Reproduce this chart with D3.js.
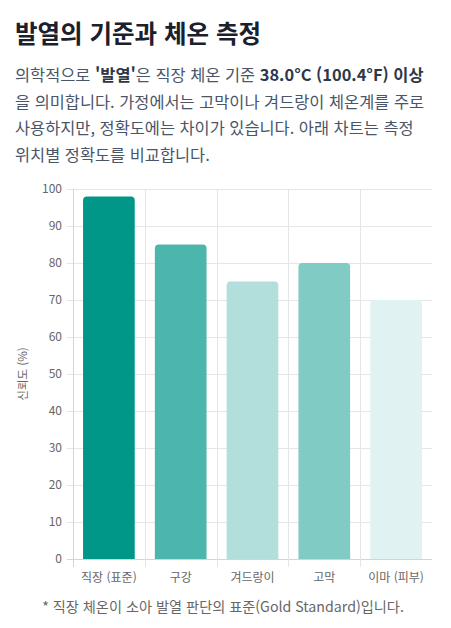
<!DOCTYPE html>
<html lang="ko">
<head>
<meta charset="utf-8">
<script src="https://cdn.jsdelivr.net/npm/d3@7"></script>
<style>
  body { margin: 0; background: #fff; font-family: "Noto Sans CJK KR", "Noto Sans", sans-serif; }
  .wrap { position: relative; width: 451px; height: 628px; }
  h1 { position: absolute; left: 15px; top: 15px; margin: 0; font-size: 24.5px; font-weight: 700; color: #1a202c; white-space: nowrap; }
  p.desc { position: absolute; left: 15px; top: 61px; width: 416px; margin: 0; font-size: 16.4px; line-height: 26.5px; color: #4a5568; }
  p.desc b { color: #2d3748; }
  svg { position: absolute; left: 0; top: 0; }
</style>
</head>
<body>
<div class="wrap">
  <h1>발열의 기준과 체온 측정</h1>
  <p class="desc">의학적으로 <b>'발열'</b>은 직장 체온 기준 <b>38.0°C (100.4°F) 이상</b>을 의미합니다. 가정에서는 고막이나 겨드랑이 체온계를 주로 사용하지만, 정확도에는 차이가 있습니다. 아래 차트는 측정 위치별 정확도를 비교합니다.</p>
  <div id="chart"></div>
</div>
<script>
// measurement sites and their reliability (%)
var sites = ["직장 (표준)", "구강", "겨드랑이", "고막", "이마 (피부)"];
var reliability = [98, 85, 75, 80, 70];
var barColors = ["#009688", "#4db6ac", "#b2dfdb", "#80cbc4", "#e0f2f1"];
var yTicks = [0, 10, 20, 30, 40, 50, 60, 70, 80, 90, 100];

var data = sites.map(function(s, i) {
    return { site: s, value: reliability[i], color: barColors[i] };
});

// plot area in page pixels
var plotLeft = 73, plotRight = 432, plotTop = 189, plotBottom = 559;

var svg = d3.select("#chart")
            .append("svg")
            .attr("width", 451)
            .attr("height", 628);

var x = d3.scaleBand()
          .domain(sites)
          .range([plotLeft, plotRight])
          .paddingInner(0.28)
          .paddingOuter(0.14);

var y = d3.scaleLinear()
          .domain([0, 100])
          .range([plotBottom, plotTop]);

var step = x.step();
var catStart = function(i) { return plotLeft + i * step; };

// horizontal grid lines
svg.append("g")
   .selectAll("line")
   .data(yTicks)
   .enter().append("line")
   .attr("x1", plotLeft - 6)
   .attr("x2", plotRight)
   .attr("y1", function(d) { return Math.round(y(d)) + 0.5; })
   .attr("y2", function(d) { return Math.round(y(d)) + 0.5; })
   .attr("stroke", function(d) { return d === 0 ? "#d4d4d4" : "#e6e6e6"; })
   .attr("stroke-width", 1);

// vertical grid lines between categories
svg.append("g")
   .selectAll("line")
   .data(sites)
   .enter().append("line")
   .attr("x1", function(d, i) { return Math.round(catStart(i)) + 0.5; })
   .attr("x2", function(d, i) { return Math.round(catStart(i)) + 0.5; })
   .attr("y1", plotTop)
   .attr("y2", plotBottom + 8)
   .attr("stroke", function(d, i) { return i === 0 ? "#d4d4d4" : "#e6e6e6"; })
   .attr("stroke-width", 1);

// bars with rounded top corners
function barPath(d) {
    var x0 = x(d.site), w = x.bandwidth(), y0 = y(d.value), y1 = y(0), r = 4;
    return "M" + x0 + "," + y1 +
           "V" + (y0 + r) +
           "Q" + x0 + "," + y0 + " " + (x0 + r) + "," + y0 +
           "H" + (x0 + w - r) +
           "Q" + (x0 + w) + "," + y0 + " " + (x0 + w) + "," + (y0 + r) +
           "V" + y1 + "Z";
}

svg.append("g")
   .selectAll("path")
   .data(data)
   .enter().append("path")
   .attr("d", barPath)
   .attr("fill", function(d) { return d.color; });

// y tick labels
svg.append("g")
   .selectAll("text")
   .data(yTicks)
   .enter().append("text")
   .attr("x", plotLeft - 11)
   .attr("y", function(d) { return y(d); })
   .attr("dy", "0.35em")
   .attr("text-anchor", "end")
   .attr("font-size", 12)
   .attr("fill", "#666")
   .text(function(d) { return d; });

// x tick labels
svg.append("g")
   .selectAll("text")
   .data(sites)
   .enter().append("text")
   .attr("x", function(d) { return x(d) + x.bandwidth() / 2; })
   .attr("y", plotBottom + 19)
   .attr("dy", "0.35em")
   .attr("text-anchor", "middle")
   .attr("font-size", 12)
   .attr("fill", "#666")
   .text(function(d) { return d; });

// y axis title
svg.append("text")
   .attr("transform", "rotate(-90)")
   .attr("x", -(plotTop + plotBottom) / 2)
   .attr("y", 27)
   .attr("text-anchor", "middle")
   .attr("font-size", 11.5)
   .attr("fill", "#666")
   .text("신뢰도 (%)");

// footnote
svg.append("text")
   .attr("x", 223)
   .attr("y", 607)
   .attr("dy", "0.35em")
   .attr("text-anchor", "middle")
   .attr("font-size", 14.2)
   .attr("fill", "#666")
   .text("* 직장 체온이 소아 발열 판단의 표준(Gold Standard)입니다.");
</script>
</body>
</html>
